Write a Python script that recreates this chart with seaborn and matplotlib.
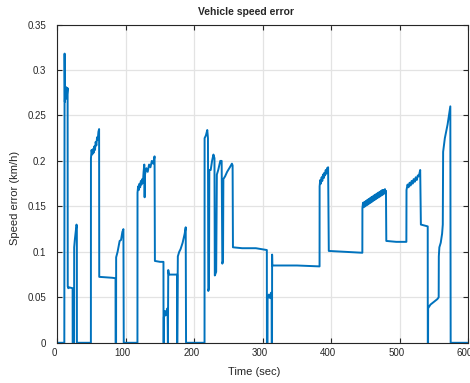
import numpy as np
import pandas as pd
import matplotlib
matplotlib.use('Agg')
import matplotlib.pyplot as plt
import matplotlib.transforms as mtransforms
import seaborn as sns

# ── Données (temps en s, erreur en km/h) ────────────────────────────
time_s = [
    0, 10.2, 10.4, 10.6, 11.0, 11.5, 12.2, 13.0, 14.0, 15.0, 15.2, 16.0, 17.0, 22.3, 22.4,
    24.5, 24.6, 25.5, 26.5, 27.3, 28.0, 28.5, 28.6,
    49.0, 49.1, 50.0, 51.0, 52.0, 53.0, 54.0, 55.0, 56.0, 57.0, 58.0, 59.0, 60.0, 61.0,
    61.2, 70.0, 80.0, 85.0, 85.1,
    85.8, 85.9, 88.0, 90.0, 91.0, 93.0, 95.0, 96.5, 97.0,
    117.0, 117.1, 118.0, 119.0, 120.0, 121.0, 122.0, 123.0, 124.0, 125.0, 126.0, 127.0,
    127.5, 128.0, 130.0, 132.0, 134.0, 136.0, 138.0, 140.0, 142.0, 142.5, 150.0, 155.0, 155.1,
    155.5, 155.6, 157.0, 158.0, 160.0, 161.0, 161.5, 162.0, 163.0, 170.0, 175.0, 175.1,
    176.0, 178.0, 180.0, 183.0, 186.0, 187.5, 188.0,
    215.0, 215.1, 217.0, 219.0, 220.0, 220.5, 221.5, 222.0, 224.0, 226.0, 228.0, 229.5,
    230.0, 232.0, 233.0, 235.0, 238.0, 240.0, 241.0, 242.0, 242.5, 245.0, 248.0, 252.0,
    255.0, 256.0, 256.5, 270.0, 290.0, 306.0, 306.1,
    307.0, 307.1, 309.0, 311.0, 312.0, 313.0, 313.1, 313.6, 313.7, 314.0, 330.0, 350.0,
    383.0, 383.1, 384.0, 385.0, 386.0, 387.0, 388.0, 389.0, 390.0, 391.0, 392.0, 393.0,
    394.0, 395.5, 396.5, 420.0, 445.5,
    445.6, 446.5, 447.5, 448.5, 449.5, 450.5, 451.5, 452.5, 453.5, 454.5, 455.5, 456.5,
    457.5, 458.5, 459.5, 460.5, 461.5, 462.5, 463.5, 464.5, 465.5, 466.5, 467.5, 468.5,
    469.5, 470.5, 471.5, 472.5, 473.5, 474.5, 475.5, 476.5, 477.5, 478.5, 479.5, 480.0,
    480.5, 495.0, 509.8,
    510.0, 511.5, 513.0, 514.5, 516.0, 517.5, 519.0, 520.5, 522.0, 523.5, 525.0, 526.5,
    528.0, 530.0, 531.0, 536.0, 541.0, 541.1,
    541.5, 541.6, 545.0, 550.0, 555.0, 557.0, 557.2, 558.0, 560.0, 562.0, 563.0, 563.5,
    566.0, 570.0, 574.0, 574.5, 600.0,
]
err_kmh = [
    0, 0, 0.20, 0.318, 0.265, 0.28, 0.268, 0.281, 0.272, 0.28, 0.062, 0.06, 0.061, 0.06, 0,
    0, 0.105, 0.113, 0.12, 0.125, 0.13, 0.128, 0,
    0, 0.203, 0.212, 0.207, 0.213, 0.209, 0.216, 0.212, 0.221, 0.217, 0.226, 0.223, 0.232,
    0.235, 0.0725, 0.072, 0.0715, 0.071, 0,
    0, 0.094, 0.10, 0.108, 0.112, 0.113, 0.122, 0.125, 0,
    0, 0.165, 0.172, 0.168, 0.175, 0.171, 0.178, 0.174, 0.18, 0.176, 0.188, 0.196,
    0.16, 0.185, 0.192, 0.188, 0.196, 0.193, 0.2, 0.197, 0.205, 0.09, 0.089, 0.089, 0,
    0, 0.028, 0.035, 0.03, 0.036, 0.038, 0, 0.08, 0.075, 0.075, 0.075, 0,
    0.095, 0.10, 0.103, 0.11, 0.12, 0.127, 0,
    0, 0.225, 0.228, 0.234, 0.225, 0.057, 0.06, 0.19, 0.19, 0.20, 0.207, 0.203,
    0.074, 0.078, 0.185, 0.19, 0.20, 0.20, 0.087, 0.09, 0.18, 0.183, 0.188, 0.193,
    0.197, 0.195, 0.105, 0.104, 0.104, 0.102, 0,
    0, 0.048, 0.053, 0.049, 0.055, 0.052, 0, 0, 0.097, 0.085, 0.085, 0.085,
    0.084, 0.172, 0.179, 0.175, 0.182, 0.178, 0.185, 0.181, 0.187, 0.184, 0.19, 0.186,
    0.192, 0.193, 0.101, 0.10, 0.099,
    0.148, 0.154, 0.149, 0.155, 0.150, 0.156, 0.151, 0.157, 0.152, 0.158, 0.153, 0.159,
    0.154, 0.160, 0.155, 0.161, 0.156, 0.162, 0.157, 0.163, 0.158, 0.164, 0.159, 0.165,
    0.160, 0.166, 0.161, 0.167, 0.162, 0.168, 0.163, 0.168, 0.164, 0.169, 0.165, 0.167,
    0.112, 0.111, 0.111,
    0.168, 0.174, 0.171, 0.176, 0.173, 0.178, 0.175, 0.18, 0.177, 0.182, 0.179, 0.184,
    0.183, 0.19, 0.13, 0.129, 0.128, 0,
    0, 0.038, 0.042, 0.045, 0.048, 0.05, 0.095, 0.105, 0.11, 0.12, 0.13, 0.21,
    0.225, 0.24, 0.26, 0, 0,
]

x_ticks = [0, 100, 200, 300, 400, 500, 600]
y_ticks = [0, 0.05, 0.1, 0.15, 0.2, 0.25, 0.3, 0.35]
y_tick_labels = ["0", "0.05", "0.1", "0.15", "0.2", "0.25", "0.3", "0.35"]

df = pd.DataFrame({"t": time_s, "err": err_kmh})

sns.set_style("whitegrid")
plt.rcParams['font.family'] = ['Liberation Sans', 'DejaVu Sans']

fig = plt.figure(figsize=(4.7, 3.83), dpi=100)
ax = fig.add_axes([0.122, 0.105, 0.874, 0.831])

sns.lineplot(data=df, x="t", y="err", sort=False, estimator=None,
             color="#0072BD", linewidth=1.4, ax=ax)

ax.set_xlim(0, 600)
ax.set_ylim(0, 0.35)
ax.set_xticks(x_ticks)
ax.set_yticks(y_ticks)
ax.set_yticklabels(y_tick_labels)

ax.grid(True, color="#e3e3e3", linewidth=0.9)
for s in ax.spines.values():
    s.set_visible(True)
    s.set_color("#262626")
    s.set_linewidth(0.8)

ax.tick_params(axis="both", direction="in", length=3.5, width=0.8,
               color="#262626", labelsize=7, labelcolor="#262626",
               top=True, right=True, bottom=True, left=True)
ax.tick_params(axis="y", pad=8)

# étiquettes x légèrement décalées vers la gauche, comme dans l'original
decal = mtransforms.ScaledTranslation(-3 / 100, 0, fig.dpi_scale_trans)
for lbl in ax.get_xticklabels():
    lbl.set_transform(lbl.get_transform() + decal)

ax.set_title("Vehicle speed error", fontsize=7.5, fontweight="bold",
             x=0.459, pad=7)
ax.set_xlabel("Time (sec)", fontsize=8, color="#262626")
ax.set_ylabel("Speed error (km/h)", fontsize=8, color="#262626")
ax.xaxis.set_label_coords(0.479, -0.075)
ax.yaxis.set_label_coords(-0.092, 0.456)

fig.savefig("out.png", dpi=100)
